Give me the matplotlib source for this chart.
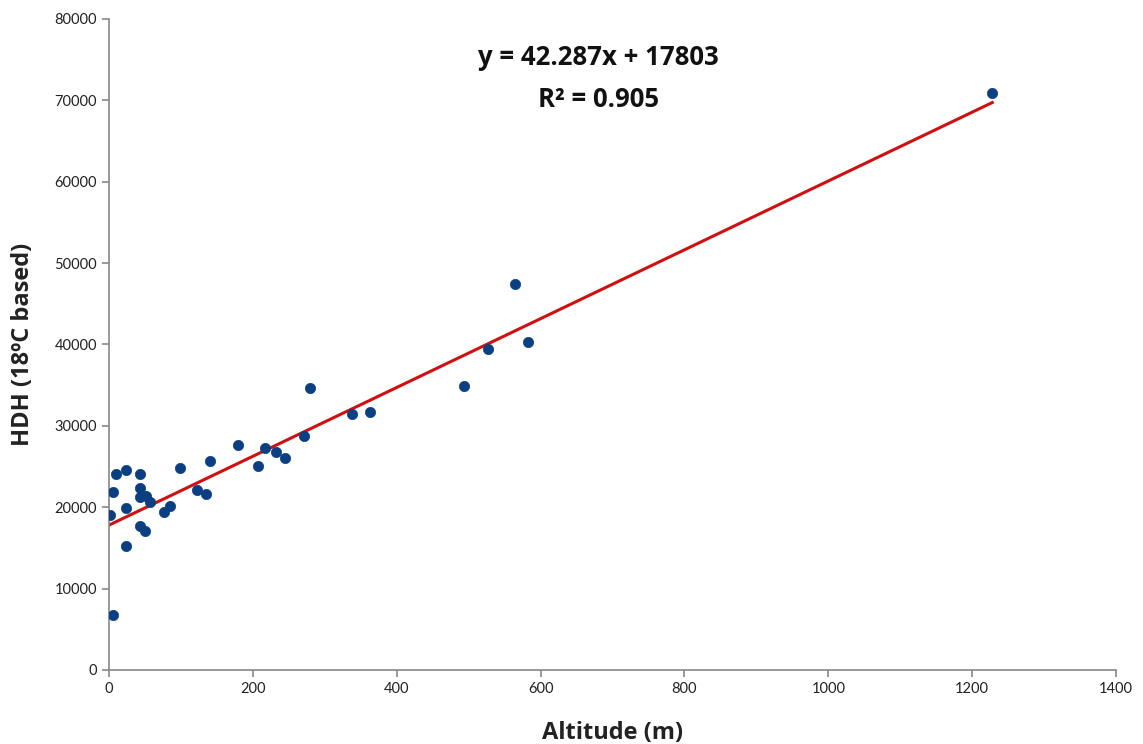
import matplotlib
matplotlib.use("Agg")
import matplotlib.pyplot as plt
import numpy as np

altitude = [1, 6, 9, 24, 23, 23, 6, 43, 43, 43, 52, 57, 43, 50, 76, 85, 98,
            122, 135, 141, 179, 207, 217, 232, 244, 271, 279, 338, 363, 493,
            527, 564, 582, 1228]
hdh = [19100, 21900, 24100, 24600, 19900, 15200, 6800, 24100, 22400, 21300,
       21400, 20700, 17700, 17100, 19400, 20200, 24800, 22100, 21600, 25700,
       27700, 25100, 27300, 26800, 26000, 28800, 34600, 31400, 31700, 34900,
       39500, 47400, 40300, 70900]

slope = 42.287
intercept = 17803
r2 = 0.905

x_ticks = [0, 200, 400, 600, 800, 1000, 1200, 1400]
y_ticks = [0, 10000, 20000, 30000, 40000, 50000, 60000, 70000, 80000]

plt.rcParams['font.family'] = ['Lato', 'DejaVu Sans']
bold_family = ['Open Sans', 'DejaVu Sans']

fig = plt.figure(figsize=(11.43, 7.44), dpi=100)
ax = fig.add_axes([0.0954, 0.0995, 0.881, 0.875])

ax.scatter(altitude, hdh, s=55, color='#0a3f82', edgecolors='#0a3f82',
           linewidths=0.5, zorder=3)
xl = np.array([min(altitude), max(altitude)])
ax.plot(xl, slope * xl + intercept, color='#d01010', lw=2.2, zorder=2)

ax.set_xlim(0, 1400)
ax.set_ylim(0, 80000)
ax.set_xticks(x_ticks)
ax.set_yticks(y_ticks)
for s in ['top', 'right']:
    ax.spines[s].set_visible(False)
for s in ['left', 'bottom']:
    ax.spines[s].set_color('#888888')
    ax.spines[s].set_linewidth(1.2)
ax.tick_params(axis='both', direction='out', length=5, color='#888888',
               labelsize=10.5, labelcolor='#222222', width=1.2)

ax.set_xlabel('Altitude (m)', fontsize=17, fontweight='bold', labelpad=18,
              family=bold_family, color='#222222')
ax.set_ylabel('HDH (18ºC based)', fontsize=17, fontweight='bold', labelpad=14,
              family=bold_family, color='#222222')

ax.text(680, 75300, f'y = {slope}x + {intercept}', ha='center', va='center',
        fontsize=18.5, fontweight='bold', family=bold_family, color='#111111')
ax.text(680, 70100, f'R² = {r2}', ha='center', va='center',
        fontsize=18.5, fontweight='bold', family=bold_family, color='#111111')

fig.savefig('out.png', dpi=100)
